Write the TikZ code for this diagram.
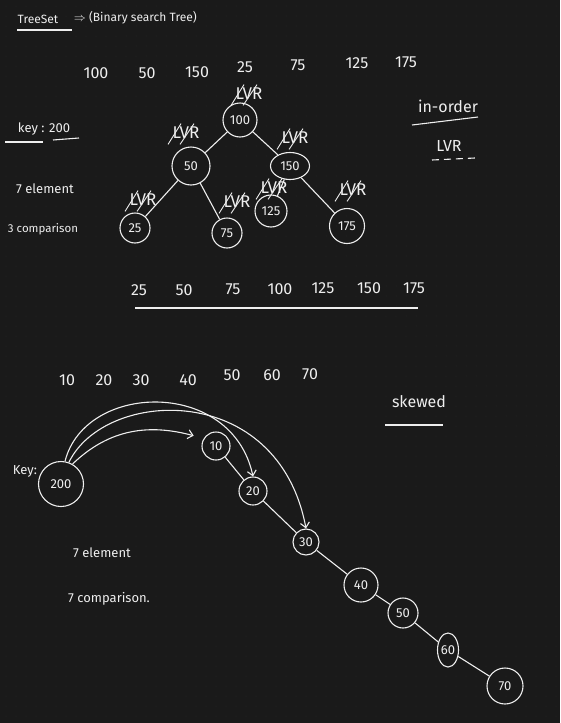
\documentclass[tikz,border=0pt]{standalone}
\usepackage{fontspec}
\setmainfont{Fira Sans}
\usepackage{tikz}
\usetikzlibrary{positioning,calc,arrows.meta,shapes.geometric}
\definecolor{board}{RGB}{26,26,26}
\definecolor{boarddot}{RGB}{46,46,46}
\definecolor{chalk}{RGB}{238,238,238}

\begin{document}
\begin{tikzpicture}[x=1pt, y=-1pt, line width=1.1pt, color=chalk,
    vtx/.style={circle, draw=chalk, inner sep=0pt, font=\fontsize{13}{15}\selectfont},
    num/.style={font=\fontsize{16}{19}\selectfont},
    note/.style={font=\fontsize{13}{15}\selectfont},
    lvr/.style={font=\fontsize{17}{19}\selectfont, inner sep=1pt},
    hand/.style={-{Straight Barb[length=5pt,width=9pt]}}]
    \fill [board] (0,0) rectangle (560,723); % Board
    \useasboundingbox (0,0) rectangle (560,723);
    \foreach \gx in {6,16,...,556}
        \foreach \gy in {6,16,...,716}
            \fill [boarddot] (\gx,\gy) circle (0.5); % Dot grid

    % Title
    \node [font=\fontsize{12}{14}\selectfont] (tset) at (38,19) {TreeSet};
    \node [font=\fontsize{12}{14}\selectfont, anchor=west] (tbst) at (70,18) {$\Rightarrow$ (Binary search Tree)};
    \draw (17,30) -- (72,30);

    % Insertion order
    \node [num] (a1) at (96,73) {100};
    \node [num] (a2) at (147,73) {50};
    \node [num] (a3) at (197,72) {150};
    \node [num] (a4) at (245,67) {25};
    \node [num] (a5) at (298,65) {75};
    \node [num] (a6) at (357,63) {125};
    \node [num] (a7) at (406,62) {175};

    % Left notes
    \node [note] (key) at (44,129) {key : 200};
    \draw (5,142) -- (43,142);
    \draw (53,140) -- (79,138);
    \node [note] (elem) at (45,189) {7 element};
    \node [font=\fontsize{11.5}{14}\selectfont] (comp) at (43,229) {3 comparison};

    % Tree
    \node [vtx, minimum size=34pt] (n100) at (240,120) {100};
    \node [vtx, minimum size=38pt] (n50) at (191,166) {50};
    \node [vtx, ellipse, minimum width=39pt, minimum height=27pt] (n150) at (290,166) {150};
    \node [vtx, minimum size=30pt] (n25) at (135,228) {25};
    \node [vtx, minimum size=30pt] (n75) at (227,233) {75};
    \node [vtx, minimum size=32pt] (n125) at (271,211) {125};
    \node [vtx, minimum size=35pt] (n175) at (347,226) {175};
    \draw (n100) -- (n50);
    \draw (n100) -- (n150);
    \draw (n50) -- (n25);
    \draw (n50) -- (n75);
    \draw (n150) -- (n125);
    \draw (n150) -- (n175);

    % Struck LVR marks
    \node [lvr] (l100) at (249,94) {LVR};
    \node [lvr] (l50) at (186,133) {LVR};
    \node [lvr] (l150) at (295,138) {LVR};
    \node [lvr] (l25) at (143,200) {LVR};
    \node [lvr] (l75) at (237,202) {LVR};
    \node [lvr] (l125) at (274,188) {LVR};
    \node [lvr] (l175) at (353,190) {LVR};
    \foreach \l in {l100,l50,l150,l25,l75,l125,l175} {
        \draw [line width=0.9pt] ([xshift=-3pt,yshift=-4pt]\l.south west) -- ([xshift=10pt,yshift=2pt]\l.north west);
        \draw [line width=0.9pt] ([xshift=9pt,yshift=-4pt]\l.south west) -- ([xshift=23pt,yshift=2pt]\l.north west);
    }

    % In-order
    \node [font=\fontsize{16}{19}\selectfont] (inord) at (448,106) {in-order};
    \draw (412,125) -- (478,117);
    \node [num] (ilvr) at (449,146) {LVR};
    \draw [dash pattern=on 7pt off 5pt] (432,160) -- (475,158);

    % Sorted output
    \node [num] (s1) at (139,290) {25};
    \node [num] (s2) at (184,290) {50};
    \node [num] (s3) at (233,289) {75};
    \node [num] (s4) at (280,289) {100};
    \node [num] (s5) at (323,288) {125};
    \node [num] (s6) at (369,288) {150};
    \node [num] (s7) at (414,288) {175};
    \draw (135,308) -- (418,308);

    % Skewed input
    \node [num] (b1) at (67,380) {10};
    \node [num] (b2) at (104,380) {20};
    \node [num] (b3) at (141,380) {30};
    \node [num] (b4) at (188,380) {40};
    \node [num] (b5) at (232,375) {50};
    \node [num] (b6) at (272,375) {60};
    \node [num] (b7) at (310,374) {70};
    \node [num] (skew) at (419,402) {skewed};
    \draw (385,425) -- (443,425);

    % Skewed tree
    \node [note] (key2) at (25,471) {Key:};
    \node [vtx, minimum size=45pt] (k200) at (61,484) {200};
    \node [vtx, minimum size=28pt] (m10) at (216,446) {10};
    \node [vtx, minimum size=28pt] (m20) at (253,491) {20};
    \node [vtx, minimum size=26pt] (m30) at (306,542) {30};
    \node [vtx, minimum size=34pt] (m40) at (361,585) {40};
    \node [vtx, minimum size=30pt] (m50) at (403,613) {50};
    \node [vtx, ellipse, minimum width=21pt, minimum height=34pt] (m60) at (448,650) {60};
    \node [vtx, minimum size=36pt] (m70) at (505,686) {70};
    \draw (m10) -- (m20);
    \draw (m20) -- (m30);
    \draw (m30) -- (m40);
    \draw (m40) -- (m50);
    \draw (m50) -- (m60);
    \draw (m60) -- (m70);
    \draw [hand] (k200.60) .. controls (110,428) and (150,424) .. ([xshift=-12pt]m10.north west);
    \draw [hand] (k200.80) .. controls (85,382) and (232,378) .. (m20.north);
    \draw [hand] (k200.70) .. controls (105,388) and (278,380) .. (m30.north);

    \node [note] (elem2) at (102,553) {7 element};
    \node [note] (comp2) at (109,599) {7 comparison.};
\end{tikzpicture}
\end{document}
